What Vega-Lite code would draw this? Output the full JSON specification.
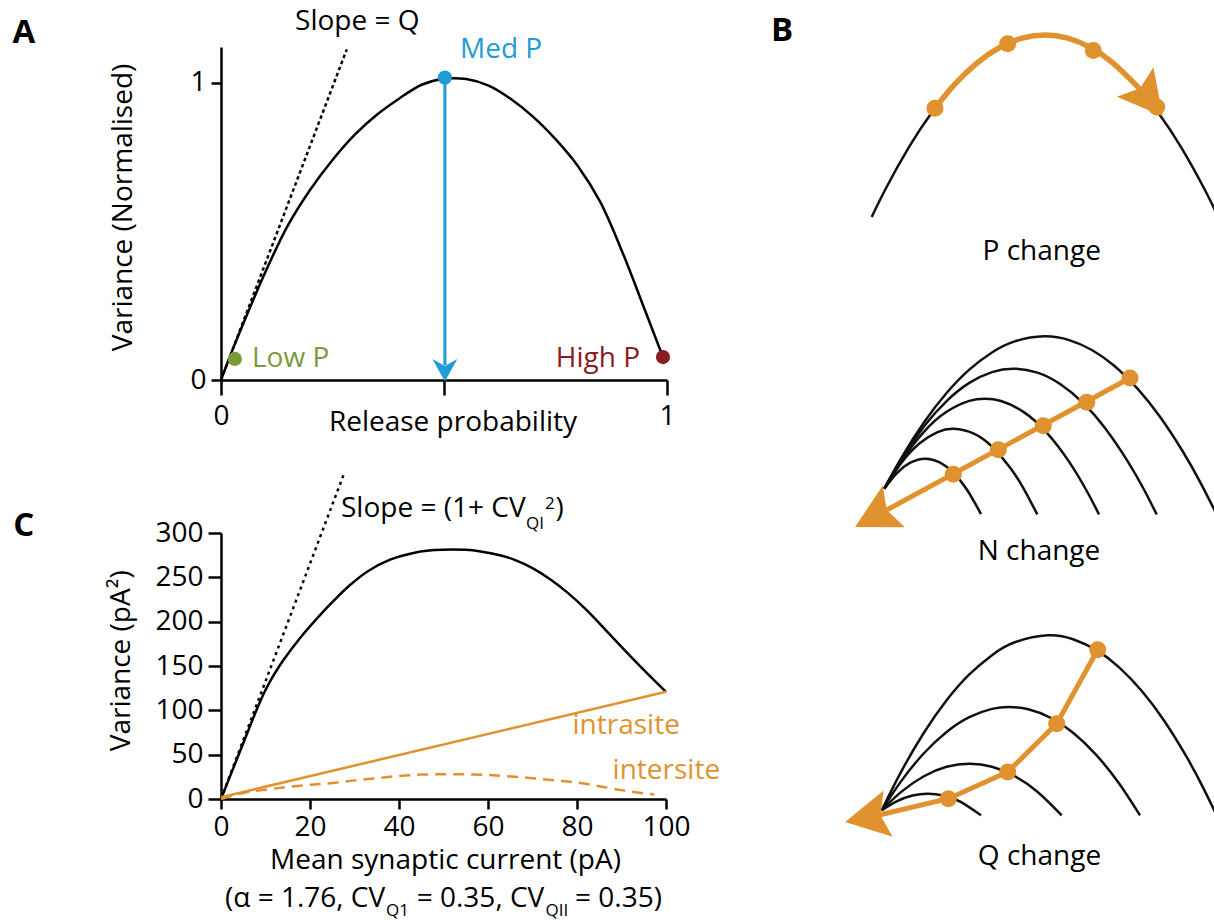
{
 "$schema": "https://vega.github.io/schema/vega-lite/v6.json",
 "background": "white",
 "padding": {"left": 12, "top": 7, "right": 0, "bottom": 0},
 "config": {
  "view": {"stroke": null},
  "font": "Open Sans",
  "axis": {"labelFont": "Open Sans", "titleFont": "Open Sans", "labelFontSize": 28, "titleFontSize": 28, "titleFontWeight": "normal", "labelColor": "#000", "titleColor": "#000", "domainColor": "#000", "tickColor": "#000", "domainWidth": 2.5, "tickWidth": 2.5, "grid": false, "labelFlush": false, "labelOverlap": false},
  "text": {"font": "Open Sans", "fontSize": 28, "baseline": "middle"}
 },
 "datasets": {
  "curveA": [
   {"x": 0, "y": 0}, {"x": 0.025, "y": 0.098}, {"x": 0.05, "y": 0.19}, {"x": 0.1, "y": 0.365}, {"x": 0.15, "y": 0.52}, {"x": 0.2, "y": 0.64}, {"x": 0.25, "y": 0.74}, {"x": 0.3, "y": 0.825}, {"x": 0.35, "y": 0.893}, {"x": 0.4, "y": 0.947}, {"x": 0.45, "y": 0.993}, {"x": 0.5, "y": 1.013}, {"x": 0.55, "y": 1.012}, {"x": 0.6, "y": 0.99}, {"x": 0.65, "y": 0.945}, {"x": 0.7, "y": 0.885}, {"x": 0.75, "y": 0.81}, {"x": 0.8, "y": 0.72}, {"x": 0.85, "y": 0.6}, {"x": 0.9, "y": 0.43}, {"x": 0.95, "y": 0.237}, {"x": 0.991, "y": 0.077}
  ],
  "tangentA": [{"x": 0, "y": 0}, {"x": 0.282, "y": 1.112}],
  "arrowLineA": [{"x": 0.502, "y": 1.017}, {"x": 0.502, "y": 0.05}],
  "arrowHeadA": [{"x": 0.502, "y": 0.037}],
  "pointsA": [{"p": "Low P", "x": 0.031, "y": 0.071}, {"p": "Med P", "x": 0.502, "y": 1.017}, {"p": "High P", "x": 0.991, "y": 0.077}],
  "labelsA": [{"p": "Low P", "x": 0.0695, "y": 0.0707}, {"p": "Med P", "x": 0.536, "y": 1.111}, {"p": "High P", "x": 0.9395, "y": 0.0707}],
  "notesA": [{"t": "Slope = Q", "x": 0.166, "y": 1.205}],
  "panelA": [{"t": "A", "x": -0.4417, "y": 1.166}],
  "curveC": [
   {"x": 0, "y": 0}, {"x": 2, "y": 25.2}, {"x": 4, "y": 50.4}, {"x": 6, "y": 75.6}, {"x": 8, "y": 100.6}, {"x": 9, "y": 112.3}, {"x": 10, "y": 123}, {"x": 11, "y": 132.5}, {"x": 12, "y": 141}, {"x": 14, "y": 156.5}, {"x": 18, "y": 183}, {"x": 22, "y": 206}, {"x": 25.5, "y": 224.5}, {"x": 29, "y": 241.3}, {"x": 33, "y": 256.9}, {"x": 38, "y": 269.9}, {"x": 44, "y": 278.3}, {"x": 48, "y": 280.8}, {"x": 52, "y": 281.5}, {"x": 55, "y": 281}, {"x": 58, "y": 279.4}, {"x": 62.9, "y": 274.6}, {"x": 66, "y": 269.7}, {"x": 70, "y": 260.4}, {"x": 74.2, "y": 247.1}, {"x": 78, "y": 232.2}, {"x": 82, "y": 213.9}, {"x": 85.4, "y": 196.2}, {"x": 90, "y": 171.6}, {"x": 95, "y": 145.6}, {"x": 100, "y": 120.8}
  ],
  "tangentC": [{"x": 0, "y": 0}, {"x": 27.7, "y": 367.6}],
  "intraC": [{"x": 0, "y": 2}, {"x": 100, "y": 121}],
  "interC": [
   {"x": 0, "y": 0}, {"x": 5, "y": 6.8}, {"x": 10, "y": 10.5}, {"x": 15, "y": 13.5}, {"x": 20, "y": 16}, {"x": 25, "y": 18}, {"x": 30, "y": 21}, {"x": 35, "y": 23.5}, {"x": 40, "y": 26}, {"x": 45, "y": 27.5}, {"x": 50, "y": 28}, {"x": 55, "y": 27.8}, {"x": 60, "y": 27}, {"x": 65, "y": 25.5}, {"x": 70, "y": 23.5}, {"x": 75, "y": 21}, {"x": 80, "y": 18.5}, {"x": 85, "y": 14.5}, {"x": 90, "y": 10}, {"x": 95, "y": 6.5}, {"x": 97.4, "y": 5}
  ],
  "labelsC": [{"t": "intrasite", "x": 79.0, "y": 82}, {"t": "intersite", "x": 88.0, "y": 31.3}],
  "mainC": [{"t": "Slope = (1+ CV", "x": 26.97, "y": 326.8}, {"t": ")", "x": 75.17, "y": 326.8}, {"t": "(α = 1.76, CV", "x": 0.9, "y": -113.1}, {"t": "= 0.35, CV", "x": 43.98, "y": -113.1}, {"t": "= 0.35)", "x": 79.55, "y": -113.1}],
  "subC": [{"t": "QI", "x": 68.54, "y": 309.8}, {"t": "2", "x": 72.81, "y": 332.9}, {"t": "Q1", "x": 37.08, "y": -126.6}, {"t": "QII", "x": 72.92, "y": -126.6}],
  "panelC": [{"t": "C", "x": -44.3, "y": 308.1}],
  "arcsB": [
   {"arc": "P1", "u": 23.5, "v": 155.29}, {"arc": "P1", "u": 26.67, "v": 161.67}, {"arc": "P1", "u": 31.67, "v": 170.61}, {"arc": "P1", "u": 36.67, "v": 178.18}, {"arc": "P1", "u": 41.67, "v": 184.37}, {"arc": "P1", "u": 46.67, "v": 189.18}, {"arc": "P1", "u": 51.67, "v": 192.62}, {"arc": "P1", "u": 56.67, "v": 194.68}, {"arc": "P1", "u": 61.67, "v": 195.37}, {"arc": "P1", "u": 66.67, "v": 194.68}, {"arc": "P1", "u": 71.67, "v": 192.62}, {"arc": "P1", "u": 76.67, "v": 189.18}, {"arc": "P1", "u": 81.67, "v": 184.37}, {"arc": "P1", "u": 86.67, "v": 178.18}, {"arc": "P1", "u": 91.67, "v": 170.61}, {"arc": "P1", "u": 96.67, "v": 161.67}, {"arc": "P1", "u": 99.49, "v": 156.02},
   {"arc": "N1", "u": 26.28, "v": 95.44}, {"arc": "N1", "u": 29, "v": 98.82}, {"arc": "N1", "u": 32, "v": 101.16}, {"arc": "N1", "u": 35.31, "v": 102.05}, {"arc": "N1", "u": 38.5, "v": 101.23}, {"arc": "N1", "u": 41.5, "v": 98.95}, {"arc": "N1", "u": 44.5, "v": 95.21}, {"arc": "N1", "u": 47.58, "v": 89.85},
   {"arc": "N2", "u": 26.28, "v": 95.45}, {"arc": "N2", "u": 30, "v": 101.08}, {"arc": "N2", "u": 34, "v": 105.4}, {"arc": "N2", "u": 38, "v": 107.92}, {"arc": "N2", "u": 41.63, "v": 108.66}, {"arc": "N2", "u": 46, "v": 107.59}, {"arc": "N2", "u": 50, "v": 104.73}, {"arc": "N2", "u": 54, "v": 100.08}, {"arc": "N2", "u": 57, "v": 95.41}, {"arc": "N2", "u": 59.98, "v": 89.78},
   {"arc": "N3", "u": 26.28, "v": 95.44}, {"arc": "N3", "u": 30, "v": 101.53}, {"arc": "N3", "u": 35, "v": 107.97}, {"arc": "N3", "u": 40, "v": 112.38}, {"arc": "N3", "u": 45, "v": 114.78}, {"arc": "N3", "u": 48.44, "v": 115.26}, {"arc": "N3", "u": 52, "v": 114.75}, {"arc": "N3", "u": 57, "v": 112.3}, {"arc": "N3", "u": 62, "v": 107.84}, {"arc": "N3", "u": 67, "v": 101.35}, {"arc": "N3", "u": 71, "v": 94.71}, {"arc": "N3", "u": 73.57, "v": 89.77},
   {"arc": "N4", "u": 26.28, "v": 95.46}, {"arc": "N4", "u": 30, "v": 101.89}, {"arc": "N4", "u": 35, "v": 109.13}, {"arc": "N4", "u": 40, "v": 114.75}, {"arc": "N4", "u": 45, "v": 118.74}, {"arc": "N4", "u": 50, "v": 121.12}, {"arc": "N4", "u": 54.82, "v": 121.87}, {"arc": "N4", "u": 60, "v": 121.0}, {"arc": "N4", "u": 65, "v": 118.51}, {"arc": "N4", "u": 70, "v": 114.4}, {"arc": "N4", "u": 75, "v": 108.66}, {"arc": "N4", "u": 80, "v": 101.31}, {"arc": "N4", "u": 83.5, "v": 95.2}, {"arc": "N4", "u": 86.28, "v": 89.77},
   {"arc": "N5", "u": 26.28, "v": 95.45}, {"arc": "N5", "u": 30, "v": 102.18}, {"arc": "N5", "u": 35, "v": 110.03}, {"arc": "N5", "u": 40, "v": 116.53}, {"arc": "N5", "u": 45, "v": 121.67}, {"arc": "N5", "u": 50, "v": 125.45}, {"arc": "N5", "u": 55, "v": 127.88}, {"arc": "N5", "u": 61.45, "v": 129.01}, {"arc": "N5", "u": 67, "v": 128.17}, {"arc": "N5", "u": 72, "v": 125.99}, {"arc": "N5", "u": 77, "v": 122.45}, {"arc": "N5", "u": 82, "v": 117.55}, {"arc": "N5", "u": 87, "v": 111.3}, {"arc": "N5", "u": 92, "v": 103.69}, {"arc": "N5", "u": 96, "v": 96.63}, {"arc": "N5", "u": 99.49, "v": 89.75},
   {"arc": "Q1", "u": 25.7, "v": 24.6}, {"arc": "Q1", "u": 29, "v": 26.58}, {"arc": "Q1", "u": 32.5, "v": 27.85}, {"arc": "Q1", "u": 35.92, "v": 28.26}, {"arc": "Q1", "u": 39.5, "v": 27.81}, {"arc": "Q1", "u": 43, "v": 26.51}, {"arc": "Q1", "u": 47.58, "v": 23.5},
   {"arc": "Q2", "u": 25.7, "v": 24.6}, {"arc": "Q2", "u": 30, "v": 28.66}, {"arc": "Q2", "u": 35, "v": 32.11}, {"arc": "Q2", "u": 40, "v": 34.18}, {"arc": "Q2", "u": 45.02, "v": 34.87}, {"arc": "Q2", "u": 50, "v": 34.19}, {"arc": "Q2", "u": 55, "v": 32.13}, {"arc": "Q2", "u": 60, "v": 28.7}, {"arc": "Q2", "u": 65.35, "v": 23.5},
   {"arc": "Q3", "u": 25.7, "v": 24.59}, {"arc": "Q3", "u": 30, "v": 31.03}, {"arc": "Q3", "u": 35, "v": 37.17}, {"arc": "Q3", "u": 40, "v": 41.87}, {"arc": "Q3", "u": 45, "v": 45.12}, {"arc": "Q3", "u": 50, "v": 46.94}, {"arc": "Q3", "u": 53.81, "v": 47.36}, {"arc": "Q3", "u": 58, "v": 46.85}, {"arc": "Q3", "u": 63, "v": 44.93}, {"arc": "Q3", "u": 68, "v": 41.56}, {"arc": "Q3", "u": 73, "v": 36.75}, {"arc": "Q3", "u": 78, "v": 30.5}, {"arc": "Q3", "u": 82.6, "v": 23.48},
   {"arc": "Q4", "u": 25.7, "v": 24.6}, {"arc": "Q4", "u": 30, "v": 33.12}, {"arc": "Q4", "u": 35, "v": 41.69}, {"arc": "Q4", "u": 40, "v": 48.83}, {"arc": "Q4", "u": 45, "v": 54.52}, {"arc": "Q4", "u": 50, "v": 58.78}, {"arc": "Q4", "u": 55, "v": 61.61}, {"arc": "Q4", "u": 62.33, "v": 63.15}, {"arc": "Q4", "u": 68, "v": 62.23}, {"arc": "Q4", "u": 73, "v": 59.88}, {"arc": "Q4", "u": 78, "v": 56.1}, {"arc": "Q4", "u": 83, "v": 50.88}, {"arc": "Q4", "u": 88, "v": 44.22}, {"arc": "Q4", "u": 93, "v": 36.13}, {"arc": "Q4", "u": 96.5, "v": 29.6}, {"arc": "Q4", "u": 99.49, "v": 23.48}
  ],
  "orangeArcB": [
   {"u": 37.44, "v": 179.22}, {"u": 41.67, "v": 184.37}, {"u": 46.67, "v": 189.18}, {"u": 51.67, "v": 192.62}, {"u": 56.67, "v": 194.68}, {"u": 61.67, "v": 195.37}, {"u": 66.67, "v": 194.68}, {"u": 71.67, "v": 192.62}, {"u": 76.67, "v": 189.18}, {"u": 81.67, "v": 184.37}, {"u": 84.29, "v": 181.6}
  ],
  "orangeLinesB": [
   {"path": "N", "u": 24.49, "v": 89.49}, {"path": "N", "u": 80.4, "v": 119.82},
   {"path": "Q", "u": 22.82, "v": 23.02}, {"path": "Q", "u": 40.37, "v": 27.16}, {"path": "Q", "u": 53.46, "v": 33.04}, {"path": "Q", "u": 64.25, "v": 43.68}, {"path": "Q", "u": 73.28, "v": 59.98}
  ],
  "dotsB": [
   {"u": 37.44, "v": 179.22}, {"u": 53.46, "v": 193.46}, {"u": 72.31, "v": 191.98}, {"u": 86.28, "v": 179.5},
   {"u": 41.48, "v": 98.6}, {"u": 51.39, "v": 104.0}, {"u": 61.3, "v": 109.3}, {"u": 70.86, "v": 114.5}, {"u": 80.4, "v": 119.82},
   {"u": 40.37, "v": 27.16}, {"u": 53.46, "v": 33.04}, {"u": 64.25, "v": 43.68}, {"u": 73.28, "v": 59.98}
  ],
  "arrowsB": [{"panel": "P", "u": 84.29, "v": 181.6}, {"panel": "N", "u": 24.49, "v": 89.49}, {"panel": "Q", "u": 22.82, "v": 23.02}],
  "textB": [{"t": "P change", "u": 60.95, "v": 147.6}, {"t": "N change", "u": 60.35, "v": 81.5}, {"t": "Q change", "u": 60.46, "v": 14.3}],
  "panelB": [{"t": "B", "u": 3.74, "v": 196.3}]
 },
 "spacing": 44,
 "hconcat": [
  {
   "spacing": 32,
   "vconcat": [
    {
     "width": 446,
     "height": 333,
     "encoding": {
      "x": {"field": "x", "type": "quantitative", "scale": {"domain": [0, 1], "nice": false, "zero": false},
            "axis": {"values": [0, 0.5, 1], "labelExpr": "datum.value == 0 ? '0' : datum.value == 1 ? '1' : ''", "tickSize": 15, "labelPadding": 7, "title": "Release probability", "titleX": 231.5, "titleY": 50, "titleBaseline": "alphabetic"}},
      "y": {"field": "y", "type": "quantitative", "scale": {"domain": [0, 1.12], "nice": false, "zero": false},
            "axis": {"values": [0, 1], "labelExpr": "datum.value == 0 ? '0' : '1'", "tickSize": 10, "labelPadding": 5, "title": "Variance (Normalised)", "titleX": -97.5, "titleY": 160, "titleBaseline": "middle", "titleAngle": 270}}
     },
     "layer": [
      {"data": {"name": "curveA"}, "mark": {"type": "line", "color": "#000", "strokeWidth": 2.5, "interpolate": "catmull-rom"}},
      {"data": {"name": "tangentA"}, "mark": {"type": "line", "color": "#000", "strokeWidth": 2.5, "strokeDash": [3.5, 3]}},
      {"data": {"name": "arrowLineA"}, "mark": {"type": "line", "color": "#1f9bd6", "strokeWidth": 3}},
      {"data": {"name": "arrowHeadA"}, "mark": {"type": "point", "shape": "M0,1 L-1,-0.8 L0,-0.25 L1,-0.8 Z", "size": 620, "filled": true, "opacity": 1, "color": "#1f9bd6", "strokeWidth": 0}},
      {"data": {"name": "pointsA"}, "mark": {"type": "circle", "size": 200, "opacity": 1},
       "encoding": {"color": {"field": "p", "type": "nominal", "scale": {"domain": ["Low P", "Med P", "High P"], "range": ["#7b9a3a", "#1f9bd6", "#8a1c22"]}, "legend": null}}},
      {"data": {"name": "labelsA"}, "transform": [{"filter": "datum.p != 'High P'"}], "mark": {"type": "text", "align": "left"},
       "encoding": {"text": {"field": "p"}, "color": {"field": "p", "type": "nominal", "scale": {"domain": ["Low P", "Med P", "High P"], "range": ["#7b9a3a", "#1f9bd6", "#8a1c22"]}, "legend": null}}},
      {"data": {"name": "labelsA"}, "transform": [{"filter": "datum.p == 'High P'"}], "mark": {"type": "text", "align": "right"},
       "encoding": {"text": {"field": "p"}, "color": {"field": "p", "type": "nominal", "scale": {"domain": ["Low P", "Med P", "High P"], "range": ["#7b9a3a", "#1f9bd6", "#8a1c22"]}, "legend": null}}},
      {"data": {"name": "notesA"}, "mark": {"type": "text", "align": "left", "color": "#000"}, "encoding": {"text": {"field": "t"}}},
      {"data": {"name": "panelA"}, "mark": {"type": "text", "align": "center", "fontWeight": "bold", "fontSize": 33, "color": "#000"}, "encoding": {"text": {"field": "t"}}}
     ]
    },
    {
     "width": 445,
     "height": 266,
     "encoding": {
      "x": {"field": "x", "type": "quantitative", "scale": {"domain": [0, 100], "nice": false, "zero": false},
            "axis": {"values": [0, 20, 40, 60, 80, 100], "tickSize": 10, "labelPadding": 4, "title": "Mean synaptic current (pA)", "titleX": 224, "titleY": 69, "titleBaseline": "alphabetic"}},
      "y": {"field": "y", "type": "quantitative", "scale": {"domain": [0, 300], "nice": false, "zero": false},
            "axis": {"values": [0, 50, 100, 150, 200, 250, 300], "tickSize": 13, "labelPadding": 5, "title": "Variance (pA²)", "titleX": -99.3, "titleY": 127.3, "titleBaseline": "middle", "titleAngle": 270}}
     },
     "layer": [
      {"data": {"name": "curveC"}, "mark": {"type": "line", "color": "#000", "strokeWidth": 2.5, "interpolate": "catmull-rom"}},
      {"data": {"name": "tangentC"}, "mark": {"type": "line", "color": "#000", "strokeWidth": 2.5, "strokeDash": [3, 4]}},
      {"data": {"name": "intraC"}, "mark": {"type": "line", "color": "#e0922f", "strokeWidth": 2.5}},
      {"data": {"name": "interC"}, "mark": {"type": "line", "color": "#e0922f", "strokeWidth": 2.5, "strokeDash": [11, 7], "interpolate": "monotone"}},
      {"data": {"name": "labelsC"}, "mark": {"type": "text", "align": "left", "color": "#e0922f"}, "encoding": {"text": {"field": "t"}}},
      {"data": {"name": "mainC"}, "mark": {"type": "text", "align": "left", "color": "#000"}, "encoding": {"text": {"field": "t"}}},
      {"data": {"name": "subC"}, "mark": {"type": "text", "align": "left", "color": "#000", "fontSize": 17}, "encoding": {"text": {"field": "t"}}},
      {"data": {"name": "panelC"}, "mark": {"type": "text", "align": "center", "fontWeight": "bold", "fontSize": 33, "color": "#000"}, "encoding": {"text": {"field": "t"}}}
     ]
    }
   ]
  },
  {
   "width": 454,
   "height": 875,
   "encoding": {
    "x": {"field": "u", "type": "quantitative", "scale": {"domain": [0, 100], "nice": false, "zero": false}, "axis": null},
    "y": {"field": "v", "type": "quantitative", "scale": {"domain": [0, 192.73], "nice": false, "zero": false}, "axis": null}
   },
   "layer": [
    {"data": {"name": "arcsB"}, "mark": {"type": "line", "color": "#111", "strokeWidth": 2.5, "interpolate": "natural"}, "encoding": {"detail": {"field": "arc"}}},
    {"data": {"name": "orangeArcB"}, "mark": {"type": "line", "color": "#e0922f", "strokeWidth": 5.5, "interpolate": "natural"}},
    {"data": {"name": "orangeLinesB"}, "mark": {"type": "line", "color": "#e0922f", "strokeWidth": 5}, "encoding": {"detail": {"field": "path"}}},
    {"data": {"name": "dotsB"}, "mark": {"type": "circle", "size": 290, "opacity": 1, "color": "#e0922f"}},
    {"data": {"name": "arrowsB"}, "transform": [{"filter": "datum.panel == 'P'"}], "mark": {"type": "point", "shape": "M0,1 L-0.98,-0.83 L0,-0.5 L0.98,-0.83 Z", "size": 2304, "angle": 321, "filled": true, "opacity": 1, "color": "#e0922f", "strokeWidth": 0}},
    {"data": {"name": "arrowsB"}, "transform": [{"filter": "datum.panel == 'N'"}], "mark": {"type": "point", "shape": "M0,1 L-0.98,-0.83 L0,-0.5 L0.98,-0.83 Z", "size": 2304, "angle": 62, "filled": true, "opacity": 1, "color": "#e0922f", "strokeWidth": 0}},
    {"data": {"name": "arrowsB"}, "transform": [{"filter": "datum.panel == 'Q'"}], "mark": {"type": "point", "shape": "M0,1 L-0.98,-0.83 L0,-0.5 L0.98,-0.83 Z", "size": 2304, "angle": 79, "filled": true, "opacity": 1, "color": "#e0922f", "strokeWidth": 0}},
    {"data": {"name": "textB"}, "mark": {"type": "text", "align": "center", "color": "#000"}, "encoding": {"text": {"field": "t"}}},
    {"data": {"name": "panelB"}, "mark": {"type": "text", "align": "center", "fontWeight": "bold", "fontSize": 33, "color": "#000"}, "encoding": {"text": {"field": "t"}}}
   ]
  }
 ]
}
